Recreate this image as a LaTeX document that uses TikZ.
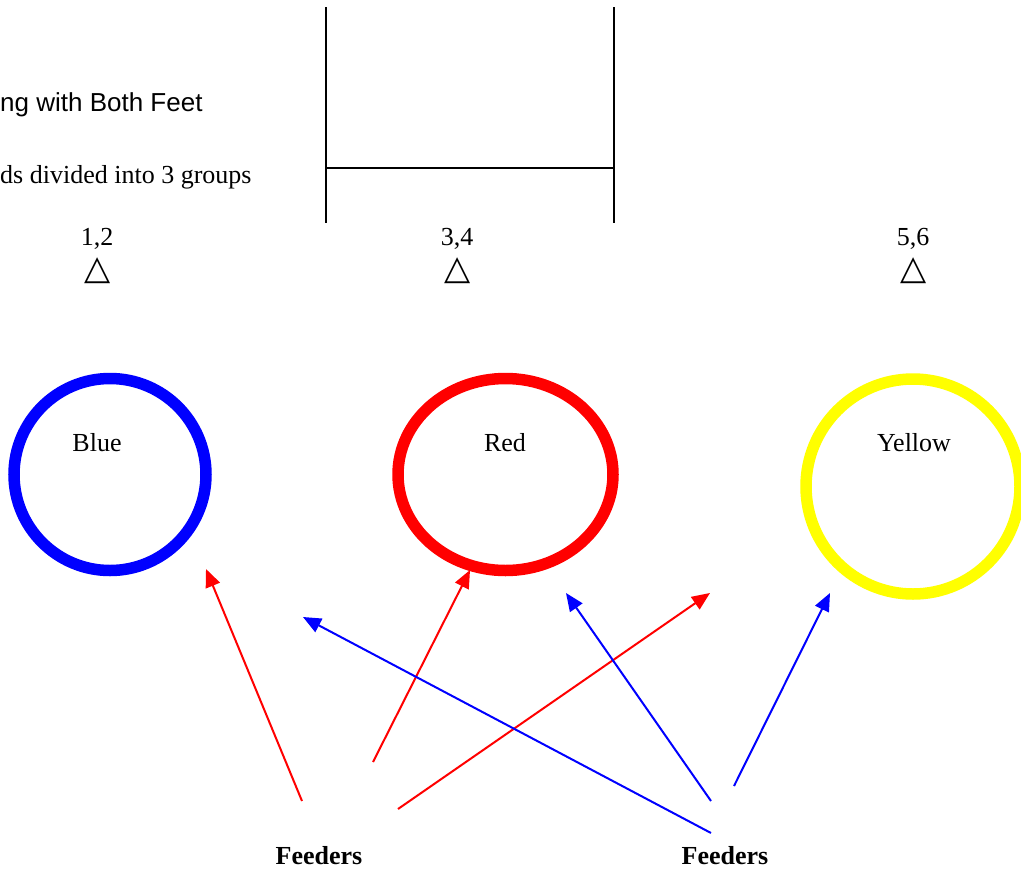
\documentclass[tikz,border=0pt]{standalone}
\usepackage{fontspec}
\setmainfont{Liberation Serif}
\newfontfamily\arialfont{Liberation Sans}
\newfontfamily\symfont{DejaVu Sans}
\usetikzlibrary{arrows.meta,shapes.geometric}
\definecolor{pblue}{RGB}{0,0,255}
\definecolor{pred}{RGB}{255,0,0}
\definecolor{pyellow}{RGB}{255,255,0}
\begin{document}
\begin{tikzpicture}[x=1pt,y=-1pt,
  txt/.style={inner sep=0pt,anchor=base,font=\fontsize{26}{30}\selectfont},
  tri/.style={inner sep=0pt,anchor=center,font=\symfont\bfseries\fontsize{34}{36}\selectfont},
  ring/.style={ellipse,line width=11.5pt,inner sep=0pt},
  feed/.style={line width=2pt,-{Triangle[length=18pt,width=15pt]}},
  bar/.style={line width=2pt}]
\useasboundingbox (0,0) rectangle (1021,871);
% top text
\node[txt,anchor=base west,font=\arialfont\fontsize{26}{30}\selectfont] (title) at (0,111) {ng with Both Feet};
\node[txt,anchor=base west] (sub) at (0,183) {ds divided into 3 groups};
% frame lines
\coordinate (l1) at (326,7);
\coordinate (l2) at (326,223);
\coordinate (r1) at (614,7);
\coordinate (r2) at (614,223);
\coordinate (h1) at (326,168);
\coordinate (h2) at (614,168);
\draw[bar] (l1) -- (l2);
\draw[bar] (r1) -- (r2);
\draw[bar] (h1) -- (h2);
% numbers and triangles
\node[txt] (n12) at (97,245) {1,2};
\node[txt] (n34) at (457,245) {3,4};
\node[txt] (n56) at (913,245) {5,6};
\node[tri] (t1) at (98,271) {△};
\node[tri] (t2) at (458,271) {△};
\node[tri] (t3) at (914,271) {△};
% circles
\node[ring,draw=pblue,minimum width=192pt,minimum height=192pt] (cblue) at (110,474.5) {};
\node[ring,draw=pred,minimum width=215pt,minimum height=192pt] (cred) at (505.5,474.5) {};
\node[ring,draw=pyellow,minimum width=214pt,minimum height=215pt] (cyellow) at (913,486.5) {};
\node[txt] (lblue) at (97,451) {Blue};
\node[txt] (lred) at (505,451) {Red};
\node[txt] (lyellow) at (914,451) {Yellow};
% feeders
\node[txt,font=\bfseries\fontsize{26}{30}\selectfont] (f1) at (319,864) {Feeders};
\node[txt,font=\bfseries\fontsize{26}{30}\selectfont] (f2) at (725,864) {Feeders};
% arrow ends
\coordinate (a1s) at (302,801);
\coordinate (a1e) at (206,569);
\coordinate (a2s) at (373,762);
\coordinate (a2e) at (470,570);
\coordinate (a3s) at (398,809);
\coordinate (a3e) at (710,593);
\coordinate (b1s) at (711,833);
\coordinate (b1e) at (303,617);
\coordinate (b2s) at (711,801);
\coordinate (b2e) at (566,593);
\coordinate (b3s) at (734,786);
\coordinate (b3e) at (830,593);
\draw[feed,pred] (a1s) -- (a1e);
\draw[feed,pred] (a2s) -- (a2e);
\draw[feed,pred] (a3s) -- (a3e);
\draw[feed,pblue] (b1s) -- (b1e);
\draw[feed,pblue] (b2s) -- (b2e);
\draw[feed,pblue] (b3s) -- (b3e);
\end{tikzpicture}
\end{document}
